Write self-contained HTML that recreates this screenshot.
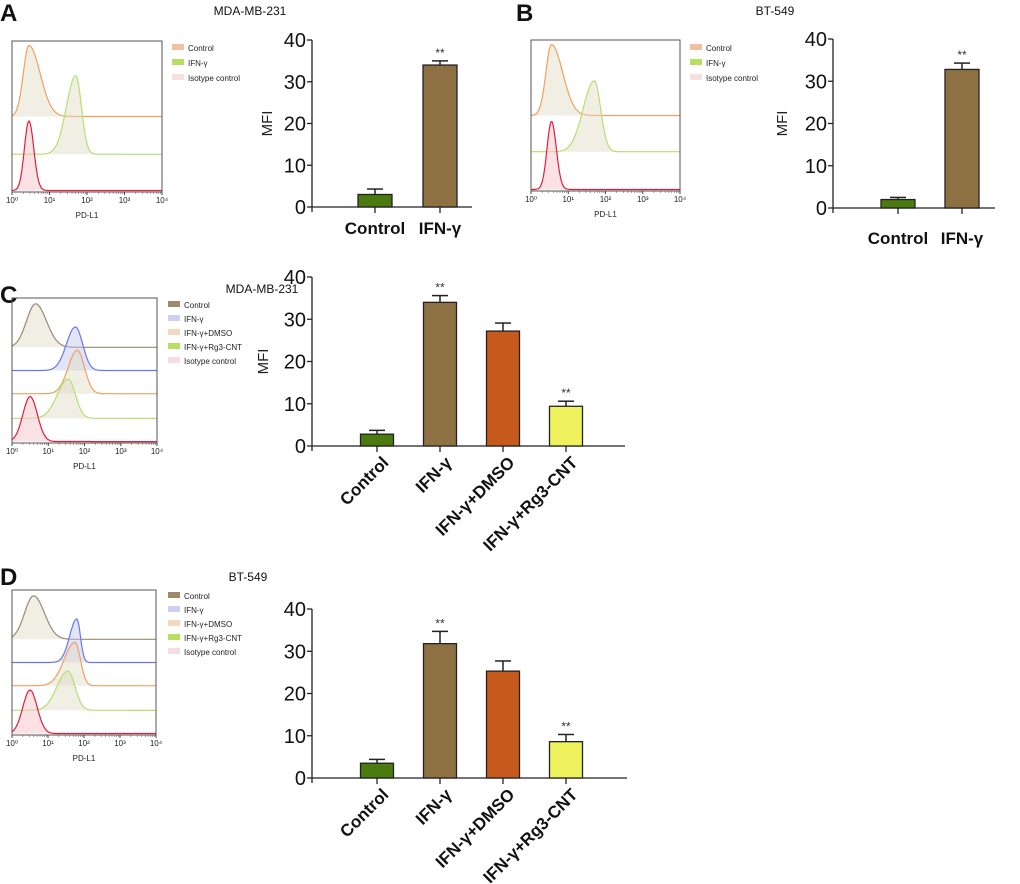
<!DOCTYPE html>
<html><head><meta charset="utf-8">
<style>
body{margin:0;background:#fff;}
svg{display:block;font-family:"Liberation Sans",Arial,sans-serif;}
</style></head>
<body>
<svg id="fig" width="1020" height="884" viewBox="0 0 1020 884" xmlns="http://www.w3.org/2000/svg">
<g id="root"></g>
</svg>
<script>
// ---- Bar chart data ----
const catsAB = ["Control", "IFN-γ"];
const catsCD = ["Control", "IFN-γ", "IFN-γ+DMSO", "IFN-γ+Rg3-CNT"];
const valsA = [3.0, 34.0];
const errA = [1.3, 1.0];
const valsB = [2.0, 32.8];
const errB = [0.5, 1.5];
const valsC = [2.8, 34.0, 27.2, 9.4];
const errC = [0.9, 1.6, 1.9, 1.2];
const valsD = [3.5, 31.8, 25.3, 8.6];
const errD = [0.9, 2.9, 2.4, 1.7];
const sigA = [false, true];
const sigB = [false, true];
const sigC = [false, true, false, true];
const sigD = [false, true, false, true];
const yTicks = [0, 10, 20, 30, 40];
const histTicks = ["10⁰", "10¹", "10²", "10³", "10⁴"];
// histogram peaks (log10 position) per panel
const peaksA = [0.45, 1.7, 0.45];
const peaksB = [0.55, 1.7, 0.55];
const peaksC = [0.65, 1.75, 1.8, 1.55, 0.5];
const peaksD = [0.6, 1.8, 1.75, 1.55, 0.5];

const NS = "http://www.w3.org/2000/svg";
const root = document.getElementById("root");
function mk(tag, attrs, parent, text){
  const e = document.createElementNS(NS, tag);
  for (const k in attrs) e.setAttribute(k, attrs[k]);
  if (text !== undefined) e.textContent = text;
  (parent || root).appendChild(e);
  return e;
}
const barColors = ["#4b7a0f", "#8d7142", "#c55a1c", "#eef25c"];

function barChart(name, cfg, cats, vals, errs, sigs){
  const g = mk("g", {});
  
  
  const y = v => cfg.y0 - (cfg.y0 - cfg.y40) * v / 40;
  const ax = mk("line", {x1: cfg.ax, x2: cfg.ax, y1: cfg.y40, y2: cfg.y0 + 5, stroke: "#222", "stroke-width": 1.3}, g);
  
  
  const xa = mk("line", {x1: cfg.ax, x2: cfg.axEnd, y1: cfg.y0, y2: cfg.y0, stroke: "#222", "stroke-width": 1.3}, g);
  
  
  yTicks.forEach(t => {
    mk("line", {x1: cfg.ax - 5, x2: cfg.ax, y1: y(t), y2: y(t), stroke: "#222", "stroke-width": 1.3}, g);
    const tl = mk("text", {x: cfg.ax - 6, y: y(t) + 7, "text-anchor": "end", "font-size": 20, fill: "#111"}, g, t);
    
    
  });
  if (cfg.mfi) {
    const m = mk("text", {x: cfg.mfiX, y: (cfg.y0 + cfg.y40) / 2, "text-anchor": "middle", "font-size": 15, fill: "#222",
      transform: `rotate(-90 ${cfg.mfiX} ${(cfg.y0 + cfg.y40) / 2})`}, g, "MFI");
    
    
  }
  cats.forEach((c, i) => {
    const cx = cfg.x0 + i * cfg.step;
    const bw = cfg.bw;
    const top = y(vals[i]);
    const et = y(vals[i] + errs[i]);
    mk("line", {x1: cx, x2: cx, y1: et, y2: top, stroke: "#222", "stroke-width": 1.5}, g);
    mk("line", {x1: cx - 8, x2: cx + 8, y1: et, y2: et, stroke: "#222", "stroke-width": 1.5}, g);
    const b = mk("rect", {x: cx - bw / 2, y: top, width: bw, height: cfg.y0 - top, fill: barColors[i], stroke: "#222", "stroke-width": 1.3}, g);
    
    
    mk("line", {x1: cx, x2: cx, y1: cfg.y0, y2: cfg.y0 + 6, stroke: "#222", "stroke-width": 1.3}, g);
    if (sigs[i]) {
      const s = mk("text", {x: cx, y: et - 4, "text-anchor": "middle", "font-size": 12, fill: "#333"}, g, "**");
      
      
    }
    let lab;
    if (cfg.rot) {
      const lx = cx + 7, ly = cfg.y0 + 12;
      lab = mk("text", {x: lx, y: ly + 8, "text-anchor": "end", "font-size": 17, "font-weight": "bold", fill: "#111", transform: `rotate(-45 ${lx} ${ly})`}, g, c);
    } else {
      lab = mk("text", {x: cx, y: cfg.labY, "text-anchor": "middle", "font-size": 17, "font-weight": "bold", fill: "#111"}, g, c);
    }
    
    
  });
}

function hist(name, box, traces, peaks, legend){
  const g = mk("g", {});
  
  
  const {x, y, w, h} = box;
  const dec = w / 4;
  traces.forEach((t, i) => {
    const baseY = y + h - t.base * h;
    const pk = peaks[i];
    const pts = [];
    for (let k = 0; k <= 200; k++) {
      const lv = 4 * k / 200;
      const s = lv < pk ? t.sl : t.sr;
      const v = Math.exp(-Math.pow((lv - pk) / s, 2) / 2);
      pts.push([x + lv * dec, baseY - v * t.amp * h]);
    }
    const d = "M" + pts.map(p => p[0].toFixed(1) + "," + p[1].toFixed(1)).join(" L");
    mk("path", {d: d + ` L${x + w},${baseY} L${x},${baseY} Z`, fill: t.fill, stroke: "none"}, g);
    const p = mk("path", {d: d, fill: "none", stroke: t.col, "stroke-width": 1.2}, g);
    
    
  });
  const fr = mk("rect", {x: x, y: y, width: w, height: h, fill: "none", stroke: "#555", "stroke-width": 1}, g);
  
  
  histTicks.forEach((t, i) => {
    mk("line", {x1: x + i * dec, x2: x + i * dec, y1: y + h, y2: y + h + 3, stroke: "#444"}, g);
    for (let m = 2; m < 10 && i < 4; m++) {
      const mx = x + (i + Math.log10(m)) * dec;
      mk("line", {x1: mx, x2: mx, y1: y + h, y2: y + h + 2, stroke: "#666", "stroke-width": 0.6}, g);
    }
    const tl = mk("text", {x: x + i * dec, y: y + h + 11, "text-anchor": "middle", "font-size": 8, fill: "#222"}, g, t);
    
    
  });
  const xl = mk("text", {x: x + w / 2, y: y + h + 26, "text-anchor": "middle", "font-size": 8, fill: "#222"}, g, "PD-L1");
  
  
  legend.items.forEach((it, i) => {
    const ly = legend.y + i * legend.dy;
    mk("rect", {x: legend.x, y: ly - 4, width: 12, height: 6, fill: it.c}, g);
    const lt = mk("text", {x: legend.x + 16, y: ly + 3, "font-size": 8, fill: "#222"}, g, it.t);
    
    
  });
}

function text(name, x, y, s, size, bold, anchor){
  const t = mk("text", {x: x, y: y, "font-size": size, "font-weight": bold ? "bold" : "normal", fill: "#111", "text-anchor": anchor || "start"}, root, s);
  
  
}

const OR = "#f0a060", GR = "#b4e070", RD = "#e0203c", BR = "#9a8a70", BL = "#6a78e6";
const FB = "rgba(225,218,195,0.45)", FR = "rgba(245,200,205,0.55)", FBL = "rgba(190,195,240,0.45)";

text("panel-label-a", 0, 21, "A", 24, true);
text("panel-label-b", 516, 21, "B", 24, true);
text("panel-label-c", 0, 303, "C", 24, true);
text("panel-label-d", 0, 585, "D", 24, true);
text("title-a", 250, 15, "MDA-MB-231", 12, false, "middle");
text("title-b", 775, 15, "BT-549", 12, false, "middle");
text("title-c", 262, 293, "MDA-MB-231", 12, false, "middle");
text("title-d", 248, 581, "BT-549", 12, false, "middle");

const leg3 = [{c: "#f0c0a0", t: "Control"}, {c: "#b8e060", t: "IFN-γ"}, {c: "#f8e0e0", t: "Isotype control"}];
const leg5 = [{c: "#a08a6a", t: "Control"}, {c: "#cdd0f0", t: "IFN-γ"}, {c: "#f5d8c0", t: "IFN-γ+DMSO"}, {c: "#b8e060", t: "IFN-γ+Rg3-CNT"}, {c: "#f8dde0", t: "Isotype control"}];

hist("histogram-a", {x: 12, y: 41, w: 150, h: 151}, [
  {col: OR, fill: FB, base: 0.5, amp: 0.47, sl: 0.15, sr: 0.3},
  {col: GR, fill: FB, base: 0.25, amp: 0.52, sl: 0.25, sr: 0.15},
  {col: RD, fill: FR, base: 0.01, amp: 0.46, sl: 0.12, sr: 0.13}], peaksA, {x: 172, y: 48, dy: 15, items: leg3});
hist("histogram-b", {x: 531, y: 40, w: 149, h: 151}, [
  {col: OR, fill: FB, base: 0.5, amp: 0.47, sl: 0.15, sr: 0.3},
  {col: GR, fill: FB, base: 0.26, amp: 0.47, sl: 0.3, sr: 0.17},
  {col: RD, fill: FR, base: 0.01, amp: 0.45, sl: 0.12, sr: 0.13}], peaksB, {x: 690, y: 48, dy: 15, items: leg3});
hist("histogram-c", {x: 12, y: 298, w: 145, h: 145}, [
  {col: BR, fill: FB, base: 0.66, amp: 0.3, sl: 0.25, sr: 0.3},
  {col: BL, fill: FBL, base: 0.5, amp: 0.3, sl: 0.25, sr: 0.2},
  {col: OR, fill: FB, base: 0.34, amp: 0.3, sl: 0.25, sr: 0.2},
  {col: GR, fill: FB, base: 0.17, amp: 0.27, sl: 0.3, sr: 0.2},
  {col: RD, fill: FR, base: 0.01, amp: 0.31, sl: 0.2, sr: 0.2}], peaksC, {x: 168, y: 305, dy: 14, items: leg5});
hist("histogram-d", {x: 12, y: 590, w: 144, h: 145}, [
  {col: BR, fill: FB, base: 0.66, amp: 0.3, sl: 0.25, sr: 0.3},
  {col: BL, fill: FBL, base: 0.5, amp: 0.3, sl: 0.2, sr: 0.1},
  {col: OR, fill: FB, base: 0.34, amp: 0.3, sl: 0.3, sr: 0.15},
  {col: GR, fill: FB, base: 0.17, amp: 0.27, sl: 0.3, sr: 0.2},
  {col: RD, fill: FR, base: 0.01, amp: 0.3, sl: 0.2, sr: 0.2}], peaksD, {x: 168, y: 596, dy: 14, items: leg5});

barChart("bar-chart-a", {ax: 312, axEnd: 472, y0: 207, y40: 40, x0: 375, step: 65, bw: 34, mfi: true, mfiX: 272, labY: 234}, catsAB, valsA, errA, sigA);
barChart("bar-chart-b", {ax: 833, axEnd: 995, y0: 208, y40: 39, x0: 898, step: 64, bw: 34, mfi: true, mfiX: 787, labY: 244}, catsAB, valsB, errB, sigB);
barChart("bar-chart-c", {ax: 312, axEnd: 625, y0: 446, y40: 277, x0: 377, step: 63, bw: 33, mfi: true, mfiX: 268, rot: true}, catsCD, valsC, errC, sigC);
barChart("bar-chart-d", {ax: 312, axEnd: 627, y0: 778, y40: 609, x0: 377, step: 63, bw: 33, mfi: false, rot: true}, catsCD, valsD, errD, sigD);
</script>
</body></html>
